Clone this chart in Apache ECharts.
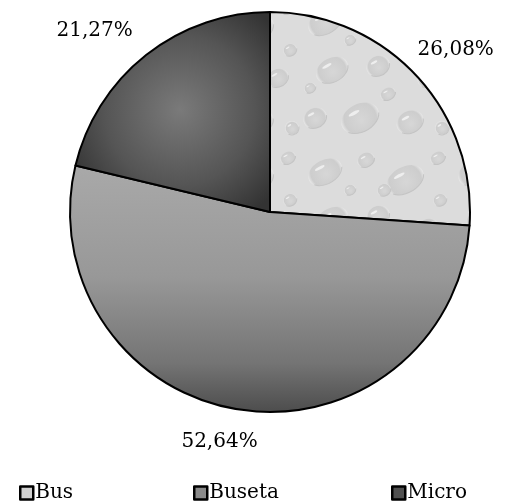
<!DOCTYPE html>
<html><head><meta charset="utf-8">
<script src="https://cdn.jsdelivr.net/npm/echarts@6/dist/echarts.min.js"></script>
<style>html,body{margin:0;padding:0;background:#fff}#c{width:509px;height:504px}</style>
</head><body><div id="c"></div>
<script>
const categories = ['Bus', 'Buseta', 'Micro'];
const values = [26.08, 52.64, 21.27];
const labels = ['26,08%', '52,64%', '21,27%'];
const labelShift = [[-24, -7], [27, 4], [9, -2]];

function dropletPattern() {
  const c = document.createElement('canvas');
  c.width = 150; c.height = 150;
  const g = c.getContext('2d');
  g.fillStyle = '#dcdcdc'; g.fillRect(0, 0, 150, 150);
  const drops = [[25,22,18,12],[66,10,9,7],[105,30,20,13],[138,8,8,6],[32,70,17,12],[78,66,12,10],[128,78,11,9],
    [15,118,12,10],[60,118,20,14],[110,122,14,11],[84,40,7,6],[50,40,6,5],[140,50,7,6],[142,128,7,7],[88,94,8,6],[10,88,6,5]];
  drops.forEach(([x,y,rx,ry]) => {
    g.save(); g.translate(x, y); g.rotate(-0.5);
    const gr = g.createRadialGradient(0, ry*0.2, 1, 0, 0, rx);
    gr.addColorStop(0, '#d6d6d6'); gr.addColorStop(0.8, '#cdcdcd'); gr.addColorStop(1, '#e8e8e8');
    g.fillStyle = gr; g.beginPath(); g.ellipse(0, 0, rx, ry, 0, 0, Math.PI*2); g.fill();
    g.strokeStyle = '#c4c4c4'; g.lineWidth = 1;
    g.beginPath(); g.ellipse(0, 0, rx, ry, 0, 0.3, 2.6); g.stroke();
    g.fillStyle = '#eeeeee';
    g.beginPath(); g.ellipse(-rx*0.15, -ry*0.5, rx*0.3, ry*0.12, 0, 0, Math.PI*2); g.fill();
    g.restore();
  });
  return c;
}
const pat = dropletPattern();
const colors = [
  { image: pat, repeat: 'repeat' },
  { type: 'linear', x: 0, y: 0, x2: 0, y2: 1,
    colorStops: [{offset: 0, color: '#a9a9a9'}, {offset: 0.45, color: '#989898'}, {offset: 0.8, color: '#747474'}, {offset: 1, color: '#4c4c4c'}] },
  { type: 'radial', x: 180, y: 110, r: 125, global: true,
    colorStops: [{offset: 0, color: '#7a7a7a'}, {offset: 0.6, color: '#555555'}, {offset: 1, color: '#333333'}] }
];
const legendColors = ['#d0d0d0', '#8a8a8a', '#505050'];
const legendLeft = [14, 188, 386];

const chart = echarts.init(document.getElementById('c'));
chart.setOption({
  animation: false,
  legend: categories.map((n, i) => ({
    data: [n], left: legendLeft[i], top: 478, itemWidth: 13, itemHeight: 13, itemGap: 0,
    icon: 'rect', textStyle: { fontFamily: 'DejaVu Serif', fontSize: 20, color: '#000', padding: [0,0,0,-3] },
    itemStyle: { color: legendColors[i], borderColor: '#000', borderWidth: 2.5 }
  })),
  series: [{
    type: 'pie', center: [270, 212], radius: 200, startAngle: 90, clockwise: true,
    data: categories.map((n, i) => ({ name: n, value: values[i], itemStyle: { color: colors[i] } })),
    itemStyle: { borderColor: '#000', borderWidth: 2 },
    label: { show: true, position: 'outside', formatter: p => labels[p.dataIndex], overflow: 'none',
      fontFamily: 'DejaVu Serif', fontSize: 20, color: '#000' },
    labelLine: { show: false, length: 28, length2: 0 },
    labelLayout: p => ({ dx: labelShift[p.dataIndex][0], dy: labelShift[p.dataIndex][1] }),
    emphasis: { disabled: true }
  }]
});
</script></body></html>
